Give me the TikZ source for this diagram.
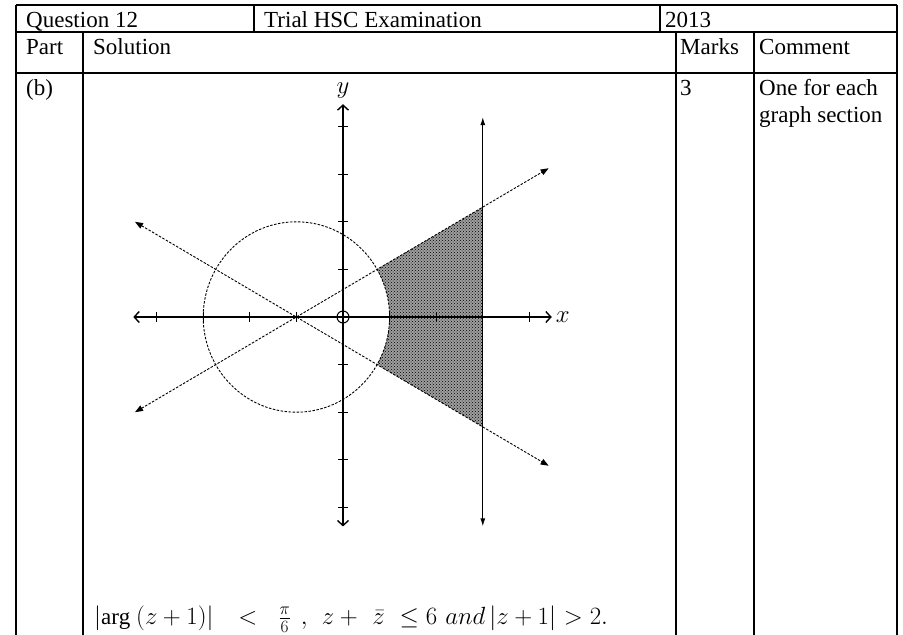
\documentclass[tikz,border=0pt]{standalone}
\usepackage{fontspec}
\setmainfont{Liberation Serif}
\usetikzlibrary{arrows.meta,patterns}

\tikzset{
    rule/.style={line width=1.1pt},
    axis/.style={line width=1.4pt, >={Straight Barb[length=5pt,width=11pt]}, <->},
    dashline/.style={line width=0.9pt, dash pattern=on 2.5pt off 1.5pt},
    ray/.style={dashline, >={Triangle[length=8pt,width=6pt]}, <->},
    bound/.style={line width=1.1pt, >={Latex[length=8pt,width=5pt]}, <->},
}

\begin{document}
\begin{tikzpicture}[x=1pt, y=-1pt, every node/.style={font=\fontsize{23}{27}\selectfont, inner sep=0pt, anchor=base west}]
    \useasboundingbox (0,0) rectangle (903,635);
    \draw[rule] (16,5) -- (897,5);
    \draw[rule] (16,32) -- (897,32);
    \draw[rule, line width=1.8pt] (16,73) -- (897,73);
    \draw[rule] (16,5) -- (16,635);
    \draw[rule] (897,5) -- (897,635);
    \draw[rule] (254,5) -- (254,32);
    \draw[rule] (660,5) -- (660,32);
    \draw[rule] (83,32) -- (83,635);
    \draw[rule] (676,32) -- (676,635);
    \draw[rule] (754,32) -- (754,635);
    \node (qnum) at (26,27) {Question 12};
    \node (exam) at (264,27) {Trial HSC Examination};
    \node (year) at (665,27) {2013};
    \node (part) at (26,54) {Part};
    \node (soln) at (93,54) {Solution};
    \node (marks) at (680,54) {Marks};
    \node (comm) at (759,54) {Comment};
    \node (partb) at (26,95) {(b)};
    \node (mark3) at (680,95) {3};
    \node (commA) at (759,95) {One for each};
    \node (commB) at (759,122) {graph section};
    \node (region) at (94,624) {$|\mathrm{arg}\ (z+1)|\hspace{18pt}<\hspace{14pt}\frac{\pi}{6}\hspace{10pt},\hspace{10pt}z+\hspace{9pt}\bar{z}\hspace{8pt}\leq 6\hspace{8pt}and\,|z+1|\hspace{1pt}>2.$};
    \begin{scope}[shift={(343,317)}, x=46.6pt, y=47.6pt]
        \path[fill=black!38, postaction={pattern=crosshatch dots}] (0.732,1) -- (3,2.309) -- (3,-2.309) -- (0.732,-1)
            -- plot[domain=-30:30, smooth, variable=\t] ({-1+2*cos(\t)}, {2*sin(\t)}) -- cycle;
        \draw[dashline] plot[domain=0:360, samples=120, smooth, variable=\t] ({-1+2*cos(\t)}, {2*sin(\t)}) -- cycle;
        \coordinate (ll) at (-4.464,-2);
        \coordinate (ur) at (4.413,3.125);
        \coordinate (ul) at (-4.464,2);
        \coordinate (lr) at (4.413,-3.125);
        \draw[ray] (ll) -- (ur);
        \draw[ray] (ul) -- (lr);
        \coordinate (xl) at (-4.5,0);
        \coordinate (xr) at (4.48,0);
        \coordinate (yb) at (0,-4.4);
        \coordinate (yt) at (0,4.47);
        \draw[axis] (xl) -- (xr);
        \draw[axis] (yb) -- (yt);
        \coordinate (vb) at (3,-4.4);
        \coordinate (vt) at (3,4.2);
        \draw[bound] (vb) -- (vt);
        \draw[line width=1.1pt] (-4,0.1) -- (-4,-0.1) (-3,0.1) -- (-3,-0.1) (-2,0.1) -- (-2,-0.1) (-1,0.1) -- (-1,-0.1)
            (1,0.1) -- (1,-0.1) (2,0.1) -- (2,-0.1) (3,0.1) -- (3,-0.1) (4,0.1) -- (4,-0.1);
        \draw[line width=1.1pt] (-0.11,-4) -- (0.11,-4) (-0.11,-3) -- (0.11,-3) (-0.11,-2) -- (0.11,-2) (-0.11,-1) -- (0.11,-1)
            (-0.11,1) -- (0.11,1) (-0.11,2) -- (0.11,2) (-0.11,3) -- (0.11,3) (-0.11,4) -- (0.11,4);
        \draw[line width=1pt] (0,0) circle (6pt);
        \node[anchor=south] (ylab) at ([yshift=6pt]yt) {$y$};
        \node[anchor=west] (xlab) at ([xshift=4pt]xr) {$x$};
    \end{scope}
\end{tikzpicture}
\end{document}
